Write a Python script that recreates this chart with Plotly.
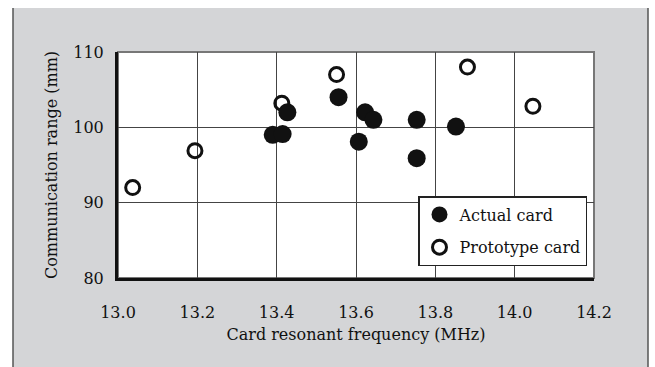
import plotly.graph_objects as go

# Data
actual_freq = [13.39, 13.415, 13.427, 13.556, 13.607, 13.623, 13.644, 13.753, 13.753, 13.852]
actual_range = [99.0, 99.1, 102.0, 104.0, 98.1, 102.0, 101.0, 101.0, 95.9, 100.1]
proto_freq = [13.037, 13.194, 13.413, 13.551, 13.881, 14.046]
proto_range = [92.0, 96.9, 103.2, 107.0, 108.0, 102.8]

x_ticks = [13.0, 13.2, 13.4, 13.6, 13.8, 14.0, 14.2]
x_tick_labels = ["13.0", "13.2", "13.4", "13.6", "13.8", "14.0", "14.2"]
y_ticks = [80, 90, 100, 110]

FONT = "DejaVu Serif"
W, H = 655, 367
L, R, T, B = 118, 61, 52, 89
pw, ph = W - L - R, H - T - B

def px_x(p):
    return (p - L) / pw

def px_y(p):
    return (H - B - p) / ph

fig = go.Figure()
fig.add_trace(go.Scatter(
    x=proto_freq, y=proto_range, mode="markers", name="Prototype card",
    legendgroup="p", legendrank=2,
    marker=dict(symbol="circle-open", size=14, color="#111111", line=dict(width=3, color="#111111")),
))
fig.add_trace(go.Scatter(
    x=actual_freq, y=actual_range, mode="markers", name="Actual card",
    legendgroup="a", legendrank=1,
    marker=dict(symbol="circle", size=18, color="#111111", line=dict(width=0)),
))

panel = "#d4d5d7"
shapes = [
    dict(type="rect", xref="paper", yref="paper", layer="below",
         x0=px_x(13), x1=px_x(648), y0=px_y(400), y1=px_y(8),
         fillcolor=panel, line=dict(width=0)),
    dict(type="line", xref="paper", yref="paper", layer="below",
         x0=px_x(13), x1=px_x(13), y0=px_y(400), y1=px_y(8),
         line=dict(color="#555555", width=1.5)),
    dict(type="line", xref="paper", yref="paper", layer="below",
         x0=px_x(648), x1=px_x(648), y0=px_y(400), y1=px_y(8),
         line=dict(color="#555555", width=1.5)),
    dict(type="rect", xref="paper", yref="paper", layer="below",
         x0=0, x1=1, y0=0, y1=1, fillcolor="white",
         line=dict(color="#777777", width=2)),
]

fig.update_layout(
    width=W, height=H,
    margin=dict(l=L, r=R, t=T, b=B, pad=0),
    paper_bgcolor="white", plot_bgcolor="white",
    font=dict(family=FONT, size=16, color="#111111"),
    shapes=shapes,
    showlegend=True,
    legend=dict(
        x=px_x(587), y=px_y(196), xanchor="right", yanchor="top",
        bgcolor="white", bordercolor="#222222", borderwidth=1.5,
        font=dict(family=FONT, size=16, color="#111111"),
        traceorder="grouped", tracegroupgap=9,
    ),
    xaxis=dict(
        range=[13.0, 14.2], tickvals=x_ticks, ticktext=x_tick_labels,
        showgrid=True, gridcolor="#444444", gridwidth=1,
        showline=True, linecolor="#111111", linewidth=3,
        ticks="", ticklabelstandoff=18, zeroline=False,
        title=dict(text="Card resonant frequency (MHz)", font=dict(family=FONT, size=16), standoff=8),
    ),
    yaxis=dict(
        range=[80, 110], tickvals=y_ticks,
        showgrid=True, gridcolor="#444444", gridwidth=1,
        showline=True, linecolor="#111111", linewidth=3,
        ticks="", ticklabelstandoff=8, zeroline=False,
        title=dict(text="Communication range (mm)", font=dict(family=FONT, size=16), standoff=12),
    ),
)

fig.write_html("out.html", config={"displayModeBar": False},
               post_script="document.body.style.margin='0';")
